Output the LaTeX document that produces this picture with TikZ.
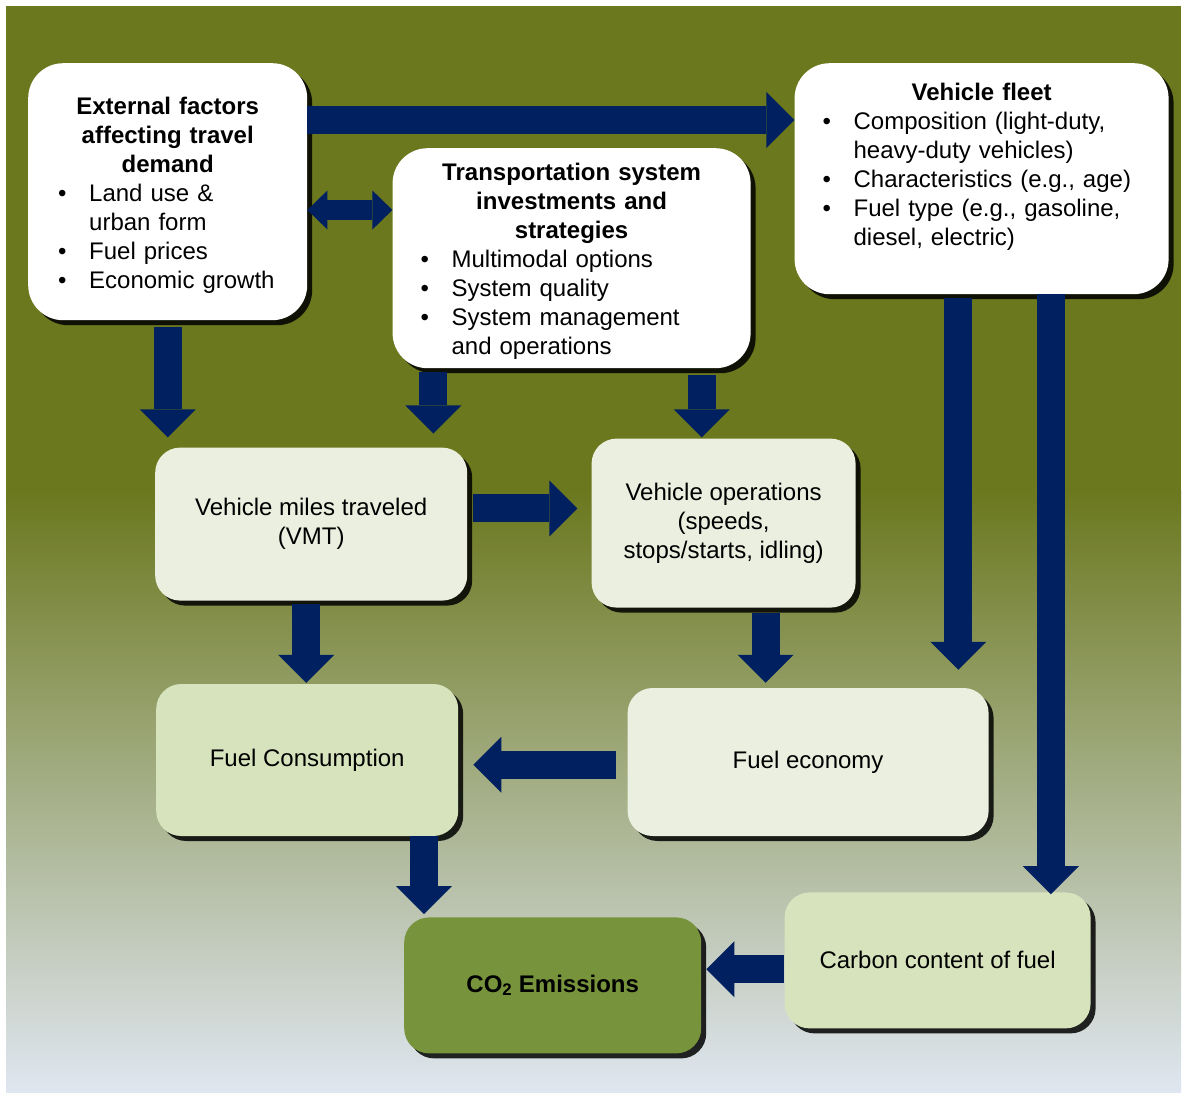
\documentclass[tikz,border=0pt]{standalone}
\usepackage{fontspec}
\setmainfont{Liberation Sans}
\usepackage{tikz}
\usetikzlibrary{positioning,calc,shadows,arrows.meta}
\definecolor{navy}{RGB}{0,32,96}
\definecolor{olivebg}{RGB}{107,120,30}
\definecolor{haze}{RGB}{223,230,240}
\definecolor{pale}{RGB}{235,239,223}
\definecolor{sage}{RGB}{215,227,188}
\definecolor{moss}{RGB}{119,147,60}
\newcommand\boxtitle[1]{{\centering\bfseries #1\par}}
\newcommand\boxitem[1]{\noindent\hangindent=31pt\hangafter=1\makebox[31pt][l]{\textbullet}#1\par}
\tikzset{
 w/.style
  = {rectangle, fill=white, rounded corners=35pt, inner sep=0pt,
     font=\fontsize{24}{29}\selectfont,
     drop shadow={shadow xshift=5pt, shadow yshift=-5pt, fill=black, opacity=.85}},
 p/.style
  = {rectangle, fill=pale, rounded corners=25pt, inner sep=0pt, align=center,
     font=\fontsize{24}{29}\selectfont,
     drop shadow={shadow xshift=5pt, shadow yshift=-5pt, fill=black, opacity=.85}},
 g/.style
  = {p, fill=sage},
 em/.style
  = {p, fill=moss, font=\fontsize{24}{29}\selectfont\bfseries},
 l/.style
  = {draw=navy, line width=28pt, -{Triangle[length=28pt, width=56pt, line width=0pt]}},
 ld/.style
  = {draw=navy, line width=20pt,
     {Triangle[length=20pt, width=39pt, line width=0pt]}-{Triangle[length=20pt, width=39pt, line width=0pt]}}
}
\begin{document}
\begin{tikzpicture}[x=1pt, y=-1pt]
    \useasboundingbox [fill=white] (0,0) rectangle (1187,1098);
    \fill [olivebg] (6,6) rectangle (1181,490);
    \shade [top color=olivebg, bottom color=haze] (6,490) rectangle (1181,1092);

    \node [w, anchor=north west, text width=279pt, minimum height=257pt] (ext) at (28,63)
      {\leftskip=30pt\rightskip=0pt plus 1fil
       \boxtitle{External factors\\affecting travel\\demand}
       \boxitem{Land use \&\newline urban form}
       \boxitem{Fuel prices}
       \boxitem{Economic growth}
       \kern-7pt};
    \node [w, below right=85pt and 85pt of ext.north east, text width=358pt, minimum height=220pt] (trans)
      {\leftskip=28pt\rightskip=0pt plus 1fil
       \boxtitle{Transportation system\\investments and\\strategies}
       \boxitem{Multimodal options}
       \boxitem{System quality}
       \boxitem{System management\newline and operations}
       \kern-7pt};
    \node [w, right=487pt of ext.north east, anchor=north west, text width=374pt, minimum height=231pt] (fleet)
      {\leftskip=28pt\rightskip=0pt plus 1fil
       \boxtitle{Vehicle fleet}
       \boxitem{Composition (light-duty,\newline heavy-duty vehicles)}
       \boxitem{Characteristics (e.g., age)}
       \boxitem{Fuel type (e.g., gasoline,\newline diesel, electric)}
       \kern24pt};
    \node [p, below right=127pt and 127pt of ext.south west, minimum width=312pt, minimum height=153pt] (vmt)
      {Vehicle miles traveled\\(VMT)};
    \node [p, below right=70pt and 199pt of trans.south west, minimum width=264pt, minimum height=169pt] (ops)
      {Vehicle operations\\(speeds,\\stops/starts, idling)};
    \node [g, below right=83pt and 1pt of vmt.south west, minimum width=302pt, minimum height=152pt] (cons)
      {Fuel Consumption};
    \node [p, below right=80pt and 36pt of ops.south west, minimum width=361pt, minimum height=148pt] (econ)
      {Fuel economy};
    \node [em, below right=81pt and 248pt of cons.south west, minimum width=297pt, minimum height=136pt] (co2)
      {CO\textsubscript{2} Emissions};
    \node [g, below right=56pt and 157pt of econ.south west, minimum width=306pt, minimum height=136pt] (carbon)
      {Carbon content of fuel};

    \path [l] ([yshift=-57pt]ext.north east) -- ([yshift=-57pt]fleet.north west);
    \path [ld] ([yshift=-147pt]ext.north east) -- ([yshift=-62pt]trans.north west);
    \path [l, shorten <=7pt, shorten >=10pt] (ext.south) -- (ext.south |- vmt.north);
    \path [l, shorten <=4pt, shorten >=14pt] ($(trans.south west)+(41,0)$) -- ($(trans.south west |- vmt.north)+(41,0)$);
    \path [l, shorten <=7pt, shorten >=1pt] ($(trans.south east)+(-49,0)$) -- ($(trans.south east |- ops.north)+(-49,0)$);
    \path [l, shorten <=6pt, shorten >=14pt] ($(vmt.north east)+(0,61)$) -- ($(vmt.north east -| ops.west)+(0,61)$);
    \path [l, shorten <=4pt, shorten >=18pt] ($(fleet.south west)+(164,0)$) -- ($(fleet.south west |- econ.north)+(164,0)$);
    \path [l, shorten >=-2pt] ($(fleet.south east)+(-118,0)$) -- ($(fleet.south east |- carbon.north)+(-118,0)$);
    \path [l, shorten <=3pt, shorten >=1pt] ($(vmt.south)+(-5,0)$) -- ($(vmt.south |- cons.north)+(-5,0)$);
    \path [l, shorten <=5pt, shorten >=5pt] ($(ops.south)+(42,0)$) -- ($(ops.south |- econ.north)+(42,0)$);
    \path [l, shorten <=11pt, shorten >=15pt] ($(econ.north west)+(0,77)$) -- ($(econ.north west -| cons.east)+(0,77)$);
    \path [l, shorten >=3pt] ($(cons.south west)+(268,0)$) -- ($(cons.south west |- co2.north)+(268,0)$);
    \path [l, shorten >=5pt] ($(carbon.north west)+(0,77)$) -- ($(carbon.north west -| co2.east)+(0,77)$);

\end{tikzpicture}
\end{document}
